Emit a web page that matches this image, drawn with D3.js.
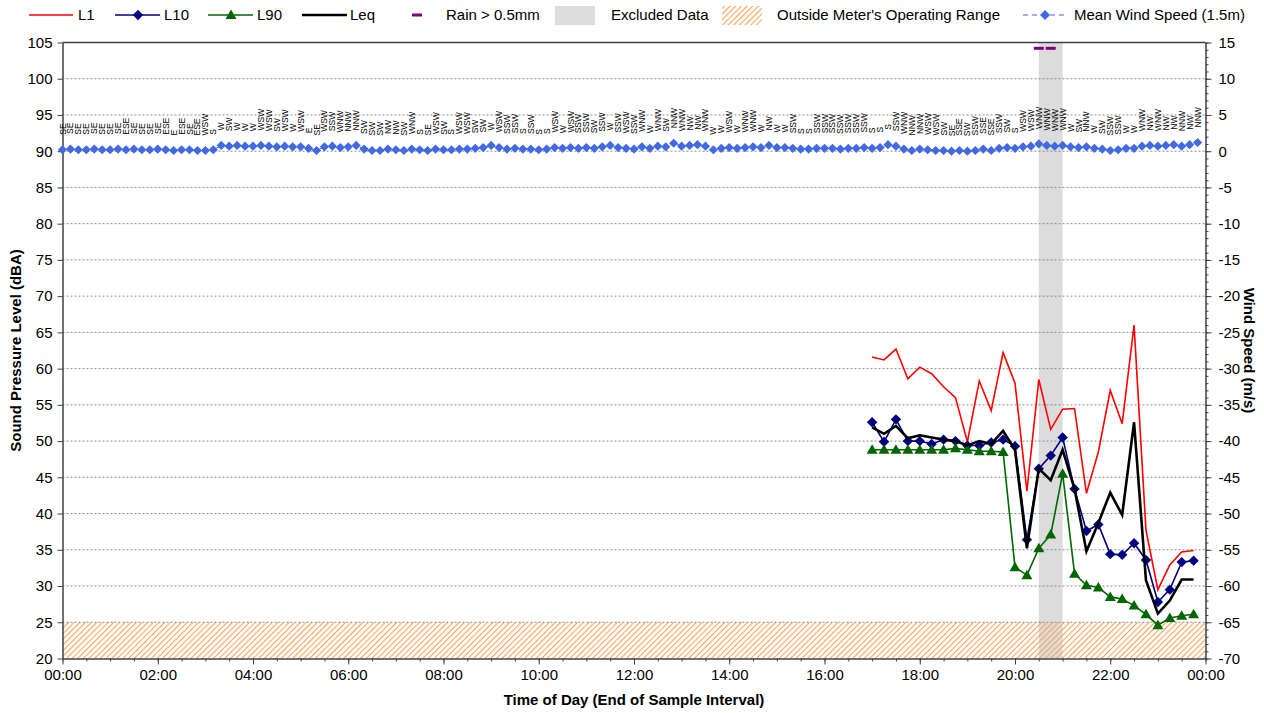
<!DOCTYPE html>
<html><head><meta charset="utf-8">
<script src="https://cdn.jsdelivr.net/npm/d3@7"></script>
<style>
body{margin:0;background:#fff;}
text{font-family:Arial,"Liberation Sans",sans-serif;fill:#000;}
</style>
</head><body>
<svg id="chart" width="1264" height="713"></svg>
<script>
// ---------------- DATA ----------------
const soundTimes = ["17:00","17:15","17:30","17:45","18:00","18:15","18:30","18:45","19:00","19:15","19:30","19:45",
  "20:00","20:15","20:30","20:45","21:00","21:15","21:30","21:45","22:00","22:15","22:30","22:45","23:00","23:15","23:30","23:45"];
const L1  = [61.6,61.2,62.7,58.6,60.2,59.3,57.5,56.0,49.9,58.3,54.2,62.2,58.0,43.1,58.5,51.6,54.4,54.5,42.8,48.5,57.0,52.4,66.0,37.7,29.5,32.9,34.7,34.9];
const L10 = [52.6,49.9,53.0,50.0,50.0,49.6,50.2,50.0,49.4,49.4,49.8,50.2,49.3,36.4,46.2,48.0,50.5,43.4,37.6,38.5,34.4,34.3,35.9,33.6,27.8,29.5,33.3,33.5];
const L90 = [48.8,48.8,48.8,48.8,48.8,48.8,48.8,49.0,48.8,48.6,48.6,48.5,32.6,31.5,35.2,37.1,45.5,31.7,30.1,29.8,28.5,28.2,27.3,26.1,24.6,25.6,25.9,26.1];
const Leq = [51.9,51.0,52.1,50.4,50.8,50.5,50.2,50.0,49.4,50.0,49.6,51.4,48.8,35.2,46.2,44.6,48.8,43.4,34.8,38.7,42.9,39.8,52.6,30.8,26.2,28.0,30.9,30.9];

const rainTimes = ["20:30","20:45"];
const rainLevel = [104.2,104.2];

const excludedRanges = [["20:30","21:00"]];
const operatingRange = [20,25];

// wind sampled every 10 minutes from 00:00
const windInterval = 10;
const windSpeed = [
 0.2,0.3,0.2,0.2,0.3,0.2,0.2,0.3,0.2,0.3,0.2,0.2,0.3,0.2,0.1,0.2,0.2,0.1,0.1,0.2,
 0.8,0.7,0.8,0.7,0.7,0.8,0.7,0.6,0.7,0.6,0.6,0.4,0.1,0.6,0.7,0.5,0.6,0.8,0.3,0.1,
 0.1,0.3,0.2,0.1,0.3,0.2,0.1,0.3,0.2,0.2,0.3,0.3,0.4,0.5,0.8,0.5,0.3,0.4,0.3,0.3,
 0.2,0.3,0.5,0.4,0.5,0.4,0.5,0.4,0.6,0.8,0.5,0.4,0.3,0.6,0.4,0.7,0.6,1.1,0.7,0.8,
 0.9,0.7,0.2,0.4,0.5,0.4,0.5,0.6,0.5,0.8,0.5,0.5,0.4,0.3,0.3,0.4,0.4,0.4,0.3,0.4,
 0.4,0.5,0.4,0.5,0.9,0.7,0.3,0.1,0.3,0.2,0.1,0.1,0.0,0.1,0.0,0.1,0.3,0.1,0.4,0.5,
 0.4,0.6,0.7,1.0,0.8,0.7,0.8,0.6,0.5,0.6,0.4,0.3,0.1,0.2,0.4,0.4,0.7,0.8,0.7,0.8,
 0.9,0.7,0.9,1.2];
const windDir = [
 "SE","SE","SE","SE","SE","SE","SE","SE","ESE","SE","SE","SE","SE","ESE","E","ESE","SE","ESE","WSW","S",
 "W","SW","W","W","W","WSW","WSW","SW","WSW","W","WSW","E","SE","WSW","SSW",
 "WNW","NNW","NNW","SW","SW","SW","NW","NW","SW","WNW","S","SE","WSW","SW","S","WSW","WSW","SW","SW","W",
 "WSW","SSW","SSW","S","SSW","S","S","WSW","W","WSW","SSW","SSW","SW","SSW","W","SSW","WSW",
 "SSW","WNW","W","WNW","SW","NNW","WNW","NW","NW","WNW","W","W","WSW","W","WNW","WNW","W","NW","W","W",
 "SSW","S","S","SSW","SSW","SSW","SSW","SSW","SSW","SSW","S","S","S","SSW","WNW","NNW",
 "NNW","WSW","WSW","SW","SE","SSE","SW","SSW","SSE","SSE","SSW","SW","S","WSW","WSW","WNW","WNW","WNW","WNW",
 "W","SW","NNW","W","SW","SSW","SSW","W","W","WNW","NW","WNW","NW","NW","NNW","NW","NNW"];

const xTickHours = [0,2,4,6,8,10,12,14,16,18,20,22,24];
const leftTicks = [20,25,30,35,40,45,50,55,60,65,70,75,80,85,90,95,100,105];
const rightTicks = [-70,-65,-60,-55,-50,-45,-40,-35,-30,-25,-20,-15,-10,-5,0,5,10,15];

// ---------------- HELPERS ----------------
const toMin = s => { const [h,m] = s.split(":").map(Number); return h*60+m; };
const pad = n => (n<10?"0":"")+n;
const fmtMin = m => pad(Math.floor(m/60)%24)+":"+pad(m%60);

const W = 1264, H = 713;
const pL = 62.5, pR = 1205.5, pT = 42.5, pB = 658.5;

const svg = d3.select("#chart");
const x = d3.scaleLinear().domain([0,1440]).range([pL,pR]);
const yL = d3.scaleLinear().domain([20,105]).range([pB,pT]);
const yR = d3.scaleLinear().domain([-70,15]).range([pB,pT]);

// pattern
const defs = svg.append("defs");
const pat = defs.append("pattern").attr("id","hatch").attr("patternUnits","userSpaceOnUse")
  .attr("width",4).attr("height",4).attr("patternTransform","rotate(45)");
pat.append("line").attr("x1",0).attr("y1",0).attr("x2",0).attr("y2",4)
  .attr("stroke","#F6A35A").attr("stroke-width",2.2);

svg.append("rect").attr("width",W).attr("height",H).attr("fill","#fff");

// excluded band
svg.append("g").selectAll("rect").data(excludedRanges).join("rect")
  .attr("x", d => x(toMin(d[0]))).attr("width", d => x(toMin(d[1]))-x(toMin(d[0])))
  .attr("y", pT).attr("height", pB-pT).attr("fill","#DCDCDC");

// outside operating range
svg.append("rect").attr("x",pL).attr("width",pR-pL)
  .attr("y",yL(operatingRange[1])).attr("height",yL(operatingRange[0])-yL(operatingRange[1]))
  .attr("fill","url(#hatch)");

// gridlines
svg.append("g").selectAll("line").data(leftTicks.filter(v=>v>20 && v<105)).join("line")
  .attr("x1",pL).attr("x2",pR).attr("y1",d=>yL(d)).attr("y2",d=>yL(d))
  .attr("stroke","#8c8c8c").attr("stroke-width",1).attr("stroke-dasharray","2,2");
svg.append("line").attr("x1",pL).attr("x2",pR).attr("y1",pT).attr("y2",pT)
  .attr("stroke","#404040").attr("stroke-width",1.5);

// axes
const axisColor = "#404040";
function styleAxis(g){
  g.select(".domain").attr("stroke",axisColor).attr("stroke-width",1.5);
  g.selectAll(".tick line").attr("stroke",axisColor);
  g.selectAll("text").attr("font-size",15).attr("font-family","Arial, 'Liberation Sans', sans-serif").attr("fill","#000");
}
const gx = svg.append("g").attr("transform",`translate(0,${pB})`)
  .call(d3.axisBottom(x).tickValues(xTickHours.map(h=>h*60)).tickFormat(fmtMin).tickSize(6).tickPadding(5).tickSizeOuter(0));
styleAxis(gx);
const gxm = svg.append("g").attr("transform",`translate(0,${pB})`)
  .call(d3.axisBottom(x).tickValues(d3.range(0,1441,30)).tickFormat("").tickSize(3).tickSizeOuter(0));
gxm.select(".domain").remove(); gxm.selectAll(".tick line").attr("stroke",axisColor);

const gl = svg.append("g").attr("transform",`translate(${pL},0)`)
  .call(d3.axisLeft(yL).tickValues(leftTicks).tickFormat(d=>String(d)).tickSize(5).tickPadding(5).tickSizeOuter(0));
styleAxis(gl);

const gr = svg.append("g").attr("transform",`translate(${pR},0)`)
  .call(d3.axisRight(yR).tickValues(rightTicks).tickFormat(d=>String(d)).tickSize(6).tickPadding(7).tickSizeOuter(0));
styleAxis(gr);
const grm = svg.append("g").attr("transform",`translate(${pR},0)`)
  .call(d3.axisRight(yR).tickValues(d3.range(-70,16,1)).tickFormat("").tickSize(3).tickSizeOuter(0));
grm.select(".domain").remove(); grm.selectAll(".tick line").attr("stroke",axisColor);

// ---------------- WIND ----------------
const windColor = "#4169E1";
const wind = windSpeed.map((v,i)=>({t:i*windInterval, v, dir:windDir[i]}));
const diamond = r => `M0,${-r}L${r},0L0,${r}L${-r},0Z`;
svg.append("path").datum(wind)
  .attr("d", d3.line().x(d=>x(d.t)).y(d=>yR(d.v)))
  .attr("fill","none").attr("stroke",windColor).attr("stroke-width",1).attr("stroke-dasharray","4,3");
svg.append("g").selectAll("path").data(wind).join("path")
  .attr("d", diamond(4.6)).attr("transform", d=>`translate(${x(d.t)},${yR(d.v)})`).attr("fill",windColor);
svg.append("g").selectAll("text").data(wind).join("text")
  .attr("transform", d=>`translate(${x(d.t)+3},${yR(d.v)-15}) rotate(-90)`)
  .attr("font-size",8.5).attr("text-anchor","start").text(d=>d.dir);

// rain
svg.append("g").selectAll("rect").data(rainTimes.map((t,i)=>({t:toMin(t),v:rainLevel[i]}))).join("rect")
  .attr("x", d=>x(d.t)-5).attr("y", d=>yL(d.v)-1.5).attr("width",10).attr("height",3).attr("fill","#800080");

// ---------------- SOUND ----------------
const st = soundTimes.map(toMin);
const series = (arr)=> arr.map((v,i)=>({t:st[i], v}));
const line = d3.line().x(d=>x(d.t)).y(d=>yL(d.v));
const tri = "M0,-5.5L5.5,4L-5.5,4Z";

svg.append("path").datum(series(L1)).attr("d",line).attr("fill","none").attr("stroke","#FF0000").attr("stroke-width",1.6);

svg.append("path").datum(series(L10)).attr("d",line).attr("fill","none").attr("stroke","#000080").attr("stroke-width",1.6);
svg.append("g").selectAll("path").data(series(L10)).join("path")
  .attr("d",diamond(5.2)).attr("transform",d=>`translate(${x(d.t)},${yL(d.v)})`).attr("fill","#000080");

svg.append("path").datum(series(L90)).attr("d",line).attr("fill","none").attr("stroke","#006600").attr("stroke-width",1.6);
svg.append("g").selectAll("path").data(series(L90)).join("path")
  .attr("d",tri).attr("transform",d=>`translate(${x(d.t)},${yL(d.v)})`).attr("fill","#006600");

svg.append("path").datum(series(Leq)).attr("d",line).attr("fill","none").attr("stroke","#000").attr("stroke-width",2.6);

// ---------------- LEGEND ----------------
const lg = svg.append("g");
const ly = 15;
function legText(xp, t){ lg.append("text").attr("x",xp).attr("y",ly+5).attr("font-size",15).text(t); }
lg.append("line").attr("x1",29).attr("x2",73).attr("y1",ly).attr("y2",ly).attr("stroke","#FF0000").attr("stroke-width",1.6);
legText(78,"L1");
lg.append("line").attr("x1",115).attr("x2",160).attr("y1",ly).attr("y2",ly).attr("stroke","#000080").attr("stroke-width",1.6);
lg.append("path").attr("d",diamond(5.2)).attr("transform",`translate(138,${ly})`).attr("fill","#000080");
legText(164,"L10");
lg.append("line").attr("x1",208).attr("x2",253).attr("y1",ly).attr("y2",ly).attr("stroke","#006600").attr("stroke-width",1.6);
lg.append("path").attr("d",tri).attr("transform",`translate(231,${ly})`).attr("fill","#006600");
legText(257,"L90");
lg.append("line").attr("x1",302).attr("x2",347).attr("y1",ly).attr("y2",ly).attr("stroke","#000").attr("stroke-width",2.6);
legText(350,"Leq");
lg.append("rect").attr("x",412).attr("y",ly-1.5).attr("width",10).attr("height",3).attr("fill","#800080");
legText(446,"Rain > 0.5mm");
lg.append("rect").attr("x",555).attr("y",6).attr("width",40).attr("height",19).attr("fill","#DCDCDC");
legText(611,"Excluded Data");
lg.append("rect").attr("x",722).attr("y",6).attr("width",40).attr("height",19).attr("fill","url(#hatch)");
legText(777,"Outside Meter's Operating Range");
lg.append("line").attr("x1",1023).attr("x2",1068).attr("y1",ly).attr("y2",ly).attr("stroke",windColor).attr("stroke-width",1.2).attr("stroke-dasharray","5,4");
lg.append("path").attr("d",diamond(5)).attr("transform",`translate(1045,${ly})`).attr("fill",windColor);
legText(1074,"Mean Wind Speed (1.5m)");

// ---------------- TITLES ----------------
svg.append("text").attr("transform",`translate(21,${(pT+pB)/2}) rotate(-90)`)
  .attr("text-anchor","middle").attr("font-size",15).attr("font-weight","bold").text("Sound Pressure Level (dBA)");
svg.append("text").attr("transform",`translate(1244,${(pT+pB)/2}) rotate(90)`)
  .attr("text-anchor","middle").attr("font-size",15).attr("font-weight","bold").text("Wind Speed (m/s)");
svg.append("text").attr("x",(pL+pR)/2).attr("y",705)
  .attr("text-anchor","middle").attr("font-size",15).attr("font-weight","bold").text("Time of Day (End of Sample Interval)");
</script>
</body></html>
